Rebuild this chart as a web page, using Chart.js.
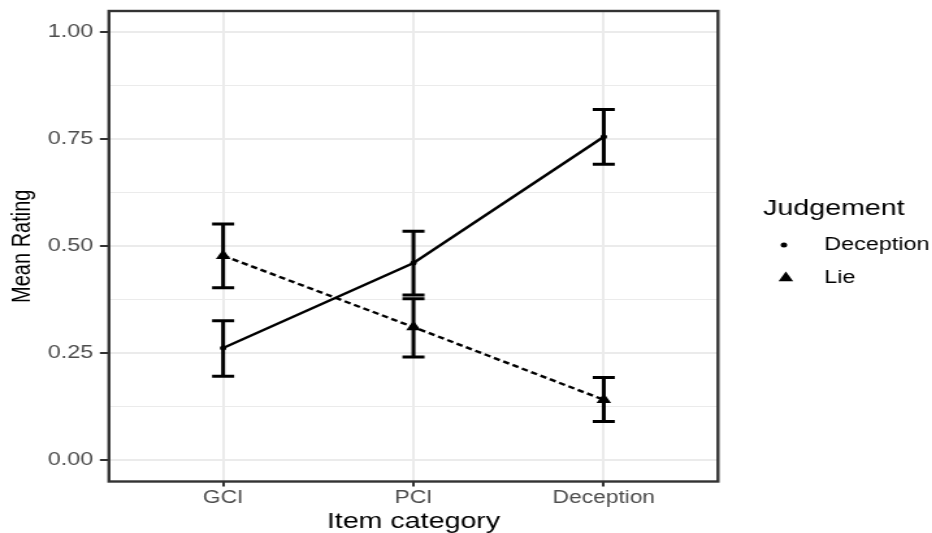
<!DOCTYPE html>
<html>
<head>
<meta charset="utf-8">
<script src="https://cdn.jsdelivr.net/npm/chart.js@4"></script>
<style>
  html, body { margin: 0; padding: 0; background: #fff; overflow: hidden; }
  /* the reference is stretched sideways, so draw narrow and stretch */
  #wrap { width: 717px; height: 533px; transform: scaleX(1.3); transform-origin: 0 0; }
</style>
</head>
<body>
<div id="wrap"><canvas id="plot" width="717" height="533"></canvas></div>
<script>
const categories = ["GCI", "PCI", "Deception"]
const seriesNames = ["Deception", "Lie"]

const deceptionMean = [0.262, 0.461, 0.756]
const deceptionLow = [0.196, 0.386, 0.692]
const deceptionHigh = [0.326, 0.535, 0.820]

const lieMean = [0.478, 0.311, 0.141]
const lieLow = [0.403, 0.241, 0.090]
const lieHigh = [0.552, 0.377, 0.193]

const yTicks = [0, 0.125, 0.25, 0.375, 0.5, 0.625, 0.75, 0.875, 1]

const FONT = "'Liberation Sans', Arial, sans-serif"
const isMajor = v => Math.abs(v * 4 - Math.round(v * 4)) < 1e-6

function toPoints(values) {
  return values.map((v, i) => ({ x: i, y: v }))
}

// error bars, drawn through the chart scales
const errorBars = {
  id: "errorBars",
  afterDatasetsDraw(chart) {
    const { ctx, scales: { x, y } } = chart
    const bars = [[deceptionLow, deceptionHigh], [lieLow, lieHigh]]
    ctx.save()
    ctx.strokeStyle = "#000"
    ctx.lineWidth = 3
    ctx.lineCap = "butt"
    bars.forEach(([low, high]) => {
      categories.forEach((c, i) => {
        const px = x.getPixelForValue(i)
        const left = x.getPixelForValue(i - 0.058)
        const right = x.getPixelForValue(i + 0.058)
        const top = y.getPixelForValue(high[i])
        const bottom = y.getPixelForValue(low[i])
        ctx.beginPath()
        ctx.moveTo(px, top); ctx.lineTo(px, bottom)
        ctx.moveTo(left, top); ctx.lineTo(right, top)
        ctx.moveTo(left, bottom); ctx.lineTo(right, bottom)
        ctx.stroke()
      })
    })
    ctx.restore()
  }
}

// panel border and legend in ggplot style
const panelAndLegend = {
  id: "panelAndLegend",
  afterDraw(chart) {
    const { ctx, chartArea: a } = chart
    ctx.save()
    ctx.strokeStyle = "#333"
    ctx.lineWidth = 2.4
    ctx.strokeRect(a.left, a.top, a.right - a.left, a.bottom - a.top)

    ctx.fillStyle = "#000"
    ctx.textBaseline = "middle"
    ctx.textAlign = "left"
    ctx.font = "22px " + FONT
    ctx.fillText("Judgement", 587, 209)

    ctx.font = "18px " + FONT
    ctx.beginPath()
    ctx.arc(603, 245, 2.5, 0, Math.PI * 2)
    ctx.fill()
    ctx.fillText(seriesNames[0], 634, 245)

    const r = 6.5, cx = 604.5, cy = 278
    ctx.beginPath()
    ctx.moveTo(cx, cy - r)
    ctx.lineTo(cx + r * 0.866, cy + r * 0.5)
    ctx.lineTo(cx - r * 0.866, cy + r * 0.5)
    ctx.closePath()
    ctx.fill()
    ctx.fillText(seriesNames[1], 634, 278)
    ctx.restore()
  }
}

new Chart(document.getElementById("plot"), {
  type: "line",
  data: {
    datasets: [{
      label: seriesNames[0],
      data: toPoints(deceptionMean),
      borderColor: "#000",
      backgroundColor: "#000",
      borderWidth: 2.4,
      pointStyle: "circle",
      pointRadius: 2.5,
      pointBorderWidth: 0,
      tension: 0
    }, {
      label: seriesNames[1],
      data: toPoints(lieMean),
      borderColor: "#000",
      backgroundColor: "#000",
      borderWidth: 2.4,
      borderDash: [5, 3],
      pointStyle: "triangle",
      pointRadius: 6.5,
      pointBorderWidth: 0,
      tension: 0
    }]
  },
  options: {
    responsive: false,
    animation: false,
    devicePixelRatio: 1,
    layout: { padding: { top: 11, right: 164.7, left: 0, bottom: 0 } },
    plugins: {
      legend: { display: false },
      tooltip: { enabled: false }
    },
    scales: {
      x: {
        type: "linear",
        min: -0.6,
        max: 2.6,
        afterBuildTicks: scale => { scale.ticks = categories.map((c, i) => ({ value: i })) },
        afterFit: scale => {
          scale.height = 51.5
          scale.paddingLeft = 0
          scale.paddingRight = 0
        },
        ticks: {
          autoSkip: false,
          maxRotation: 0,
          padding: 1,
          color: "#4d4d4d",
          font: { family: FONT, size: 17.5 },
          callback: v => categories[v]
        },
        grid: { color: "#ebebeb", lineWidth: 2, tickColor: "#333", tickLength: 5, tickWidth: 2 },
        border: { display: false },
        title: {
          display: true,
          text: "Item category",
          color: "#000",
          font: { family: FONT, size: 22, lineHeight: 1 },
          padding: { top: 0, bottom: 0 }
        }
      },
      y: {
        min: -0.05,
        max: 1.05,
        afterBuildTicks: scale => { scale.ticks = yTicks.map(v => ({ value: v })) },
        afterFit: scale => {
          scale.width = 83.8
          scale.paddingTop = 0
          scale.paddingBottom = 0
        },
        ticks: {
          autoSkip: false,
          padding: 5,
          color: "#4d4d4d",
          font: { family: FONT, size: 18 },
          callback: v => isMajor(v) ? v.toFixed(2) : ""
        },
        grid: {
          color: "#ebebeb",
          lineWidth: c => isMajor(c.tick.value) ? 2 : 1,
          tickColor: c => isMajor(c.tick.value) ? "#333" : "rgba(0,0,0,0)",
          tickLength: 7,
          tickWidth: 2
        },
        border: { display: false },
        title: {
          display: true,
          text: "Mean Rating",
          color: "#000",
          font: { family: FONT, size: 20, lineHeight: 1 },
          padding: { top: 7, bottom: 0 }
        }
      }
    }
  },
  plugins: [errorBars, panelAndLegend]
})
</script>
</body>
</html>
